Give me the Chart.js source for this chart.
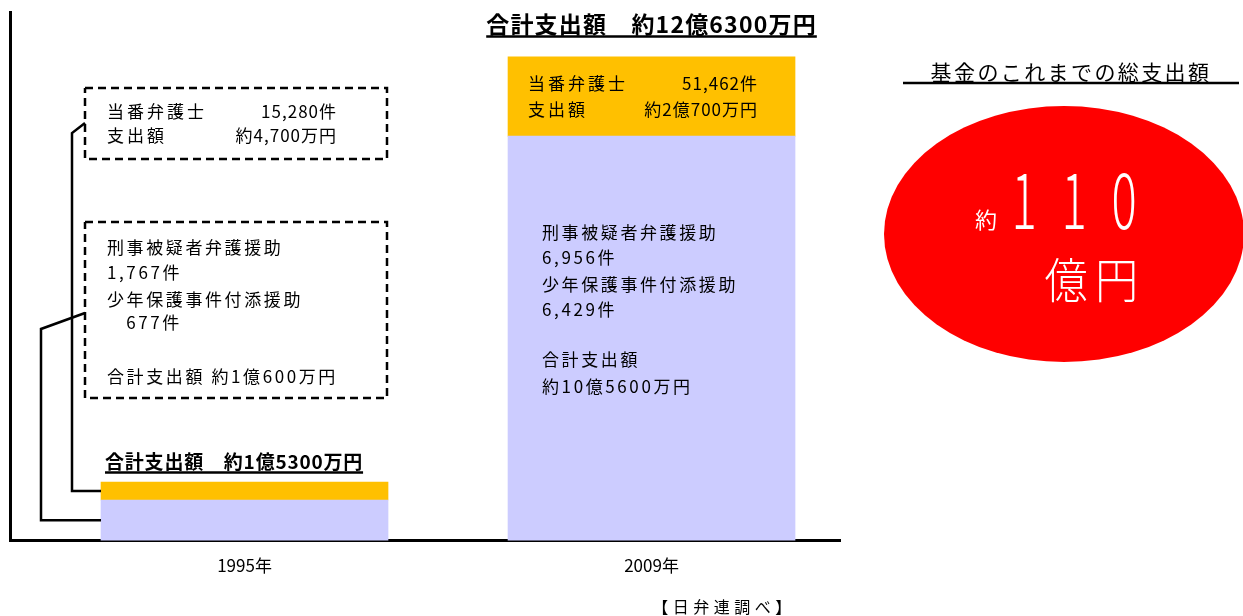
<!DOCTYPE html>
<html lang="ja">
<head>
<meta charset="utf-8">
<title>当番弁護士・援助事業の支出額</title>
<script src="https://cdn.jsdelivr.net/npm/chart.js@4/dist/chart.umd.min.js"></script>
<style>
  html, body { margin: 0; padding: 0; background: #fff; }
  #wrap { width: 1243px; height: 616px; }
</style>
</head>
<body>
<div id="wrap"><canvas id="chart" width="1243" height="616"></canvas></div>
<script>
// 単位: 万円
const yearLabels = ['1995年', '2009年'];
const yearPos = [1, 2];
const aidSpending = [10600, 105600];      // 刑事被疑者弁護援助 + 少年保護事件付添援助
const dutyLawyerSpending = [4700, 20700]; // 当番弁護士
const totalLabels = ['合計支出額　約1億5300万円', '合計支出額　約12億6300万円'];

const dutyLawyerLines = [
    ['当番弁護士', '15,280件', '支出額', '約4,700万円'],
    ['当番弁護士', '51,462件', '支出額', '約2億700万円']
];
const aidLines = [
    ['刑事被疑者弁護援助', '1,767件', '少年保護事件付添援助', '   677件', '', '合計支出額 約1億600万円'],
    ['刑事被疑者弁護援助', '6,956件', '少年保護事件付添援助', '6,429件', '', '合計支出額', '約10億5600万円']
];

const FONT = '"Noto Sans CJK JP", "Noto Sans", sans-serif';

function text(ctx, str, x, y, size, opts) {
    opts = opts || {};
    ctx.save();
    ctx.font = (opts.weight || 'normal') + ' ' + size + 'px ' + FONT;
    ctx.fillStyle = opts.color || '#000';
    ctx.textAlign = opts.align || 'left';
    ctx.textBaseline = 'middle';
    ctx.letterSpacing = (opts.spacing || 0) + 'px';
    if (opts.scaleX) {
        ctx.translate(x, y);
        ctx.scale(opts.scaleX, 1);
        ctx.fillText(str, 0, 0);
    } else {
        ctx.fillText(str, x, y);
    }
    const w = ctx.measureText(str).width;
    ctx.restore();
    return w;
}

function line(ctx, pts, width, dash) {
    ctx.save();
    ctx.strokeStyle = '#000';
    ctx.lineWidth = width;
    ctx.setLineDash(dash || []);
    ctx.beginPath();
    ctx.moveTo(pts[0][0], pts[0][1]);
    for (let i = 1; i < pts.length; i++) ctx.lineTo(pts[i][0], pts[i][1]);
    ctx.stroke();
    ctx.restore();
}

function underlined(ctx, str, x, y, size, align, spacing, weight) {
    const w = text(ctx, str, x, y, size, { align: align, spacing: spacing, weight: weight });
    const x0 = align === 'center' ? x - w / 2 : x;
    line(ctx, [[x0, y + size * 0.55], [x0 + w, y + size * 0.55]], 2.5);
}

const annotations = {
    id: 'annotations',
    afterDatasetsDraw(chart) {
        const ctx = chart.ctx;
        const aidBars = chart.getDatasetMeta(0).data;
        const dutyBars = chart.getDatasetMeta(1).data;

        // 1995年: 枠囲みの説明と引き出し線
        const b0 = dutyBars[0], a0 = aidBars[0];
        const left0 = b0.x - b0.width / 2;
        line(ctx, [[85, 88], [387, 88], [387, 159], [85, 159], [85, 88]], 2.5, [8, 5]);
        line(ctx, [[85, 222], [387, 222], [387, 398], [85, 398], [85, 222]], 2.5, [8, 5]);
        line(ctx, [[85, 123], [72, 133], [72, (b0.y + b0.base) / 2], [left0, (b0.y + b0.base) / 2]], 2.5);
        line(ctx, [[85, 313], [41, 329], [41, (a0.y + a0.base) / 2], [left0, (a0.y + a0.base) / 2]], 2.5);

        const d0 = dutyLawyerLines[0];
        text(ctx, d0[0], 107, 112, 17, { spacing: 3 });
        text(ctx, d0[1], 337, 112, 17, { align: 'right', spacing: 1 });
        text(ctx, d0[2], 107, 136, 17, { spacing: 3 });
        text(ctx, d0[3], 337, 136, 17, { align: 'right', spacing: 1 });

        const l0 = aidLines[0];
        const ys0 = [248, 273, 300, 323, 350, 377];
        l0.forEach((s, i) => { if (s) text(ctx, s, 107, ys0[i], 17, { spacing: 2.6 }); });

        underlined(ctx, totalLabels[0], left0 + 4, b0.y - 20, 19, 'left', 0.8, 'bold');

        // 2009年: 棒の中の説明
        const b1 = dutyBars[1];
        const left1 = b1.x - b1.width / 2;
        const mid1 = (b1.y + b1.base) / 2;
        const d1 = dutyLawyerLines[1];
        text(ctx, d1[0], left1 + 20, mid1 - 13, 17, { spacing: 3 });
        text(ctx, d1[1], left1 + 250, mid1 - 13, 17, { align: 'right', spacing: 1 });
        text(ctx, d1[2], left1 + 20, mid1 + 13, 17, { spacing: 3 });
        text(ctx, d1[3], left1 + 250, mid1 + 13, 17, { align: 'right', spacing: 1 });

        const l1 = aidLines[1];
        const ys1 = [233, 258, 285, 310, 335, 360, 387];
        l1.forEach((s, i) => { if (s) text(ctx, s, left1 + 34, ys1[i], 17, { spacing: 2.6 }); });

        underlined(ctx, totalLabels[1], b1.x, b1.y - 33, 23, 'center', 1.2, 'bold');

        // 基金の総支出額
        text(ctx, '基金のこれまでの総支出額', 1071, 72, 21, { align: 'center', spacing: 2.4 });
        line(ctx, [[903, 83], [1239, 83]], 2.5);
        ctx.save();
        ctx.fillStyle = '#ff0000';
        ctx.beginPath();
        ctx.ellipse(1064, 234, 180, 128, 0, 0, Math.PI * 2);
        ctx.fill();
        ctx.restore();
        text(ctx, '約', 986, 220, 22, { color: '#fff', align: 'center' });
        ['1', '1', '0'].forEach((c, i) => {
            text(ctx, c, 1024 + i * 50, 200, 76, { color: '#fff', align: 'center', weight: '300', scaleX: 0.62 });
        });
        text(ctx, '億円', 1095, 280, 48, { color: '#fff', align: 'center', weight: '300', spacing: 8, scaleX: 0.9 });

        text(ctx, '【日弁連調べ】', 724, 607, 16, { align: 'center', spacing: 4.5 });
    }
};

new Chart(document.getElementById('chart'), {
    type: 'bar',
    data: {
        datasets: [
            {
                label: '刑事被疑者弁護援助・少年保護事件付添援助',
                data: yearPos.map((x, i) => ({ x: x, y: aidSpending[i] })),
                backgroundColor: '#ccccff',
                barThickness: 287
            },
            {
                label: '当番弁護士',
                data: yearPos.map((x, i) => ({ x: x, y: dutyLawyerSpending[i] })),
                backgroundColor: '#ffc000',
                barThickness: 287
            }
        ]
    },
    options: {
        responsive: false,
        animation: false,
        layout: { padding: { left: 10, right: 403, top: 12, bottom: 25 } },
        plugins: {
            legend: { display: false },
            tooltip: { enabled: false }
        },
        scales: {
            x: {
                type: 'linear',
                stacked: true,
                offset: false,
                min: 0.4238,
                max: 2.4631,
                afterBuildTicks: scale => { scale.ticks = yearPos.map(v => ({ value: v })); },
                grid: { display: false, drawTicks: false },
                border: { display: true, color: '#000', width: 3 },
                ticks: {
                    padding: 15,
                    color: '#000',
                    font: { family: FONT, size: 17 },
                    maxRotation: 0,
                    callback: v => yearLabels[yearPos.indexOf(v)]
                }
            },
            y: {
                stacked: true,
                min: 0,
                max: 138000,
                grid: { display: false, drawTicks: false },
                border: { display: true, color: '#000', width: 3 },
                ticks: { display: false }
            }
        }
    },
    plugins: [annotations]
});
</script>
</body>
</html>
